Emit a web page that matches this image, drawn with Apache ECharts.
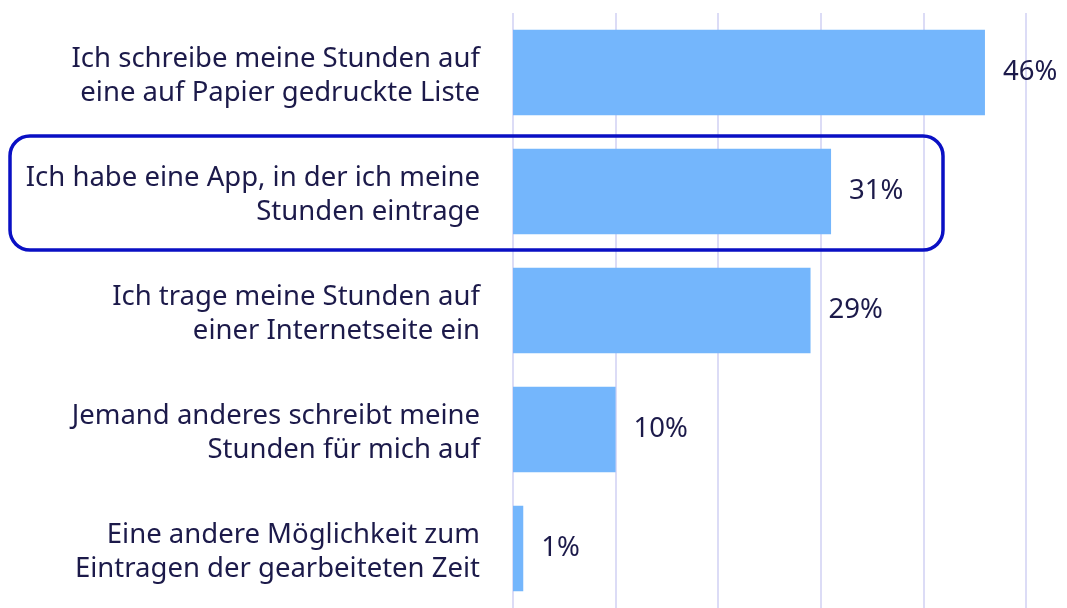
<!DOCTYPE html>
<html>
    <head>
        <meta charset="utf-8">
        <title>Stunden eintragen</title>
        <script src="https://cdn.jsdelivr.net/npm/echarts@6/dist/echarts.min.js"></script>
        <style>
            html, body { margin: 0; padding: 0; background: #fff; }
        </style>
    </head>
    <body>
        <div id="main" style="width:1067px; height:608px;"></div>
        <script type="text/javascript">
            var categories = [
                'Ich schreibe meine Stunden auf\neine auf Papier gedruckte Liste',
                'Ich habe eine App, in der ich meine\nStunden eintrage',
                'Ich trage meine Stunden auf\neiner Internetseite ein',
                'Jemand anderes schreibt meine\nStunden für mich auf',
                'Eine andere Möglichkeit zum\nEintragen der gearbeiteten Zeit'
            ]
            var values = [46, 31, 29, 10, 1]
            var xTicks = [0, 10, 20, 30, 40, 50]

            var textColor = '#1c1a4a'
            var fontName = 'Noto Sans'

            var myChart = echarts.init(document.querySelector('#main'))
            var option = {
                animation: false,
                grid: {
                    left: 513,
                    right: 41,
                    top: 13,
                    bottom: -4,
                    containLabel: false
                },
                xAxis: {
                    type: 'value',
                    min: xTicks[0],
                    max: xTicks[xTicks.length - 1],
                    interval: 10,
                    axisLine: {show: false},
                    axisTick: {show: false},
                    axisLabel: {show: false},
                    splitLine: {
                        lineStyle: {color: '#dcdcf6', width: 2}
                    }
                },
                yAxis: {
                    type: 'category',
                    inverse: true,
                    data: categories,
                    axisLine: {show: false},
                    axisTick: {show: false},
                    axisLabel: {
                        margin: 33,
                        color: textColor,
                        fontFamily: fontName,
                        fontSize: 27.5,
                        lineHeight: 34,
                        align: 'right',
                        // kleiner Abstand oben, damit der Text etwas tiefer sitzt
                        formatter: function(v) {
                            return '{p|}\n' + v
                        },
                        rich: {
                            p: {fontSize: 1, lineHeight: 8}
                        }
                    }
                },
                series: [
                    {
                        type: 'bar',
                        data: values,
                        barCategoryGap: '28%',
                        itemStyle: {color: '#74b6fc'},
                        label: {
                            show: true,
                            position: 'right',
                            distance: 18,
                            formatter: '{c}%',
                            color: textColor,
                            fontFamily: fontName,
                            fontSize: 27.5
                        }
                    }
                ],
                graphic: [
                    {
                        type: 'rect',
                        shape: {x: 10, y: 136, width: 933, height: 114, r: 20},
                        style: {fill: 'none', stroke: '#0a10c4', lineWidth: 3.5},
                        z: 100
                    }
                ]
            }
            myChart.setOption(option)
        </script>
    </body>
</html>
